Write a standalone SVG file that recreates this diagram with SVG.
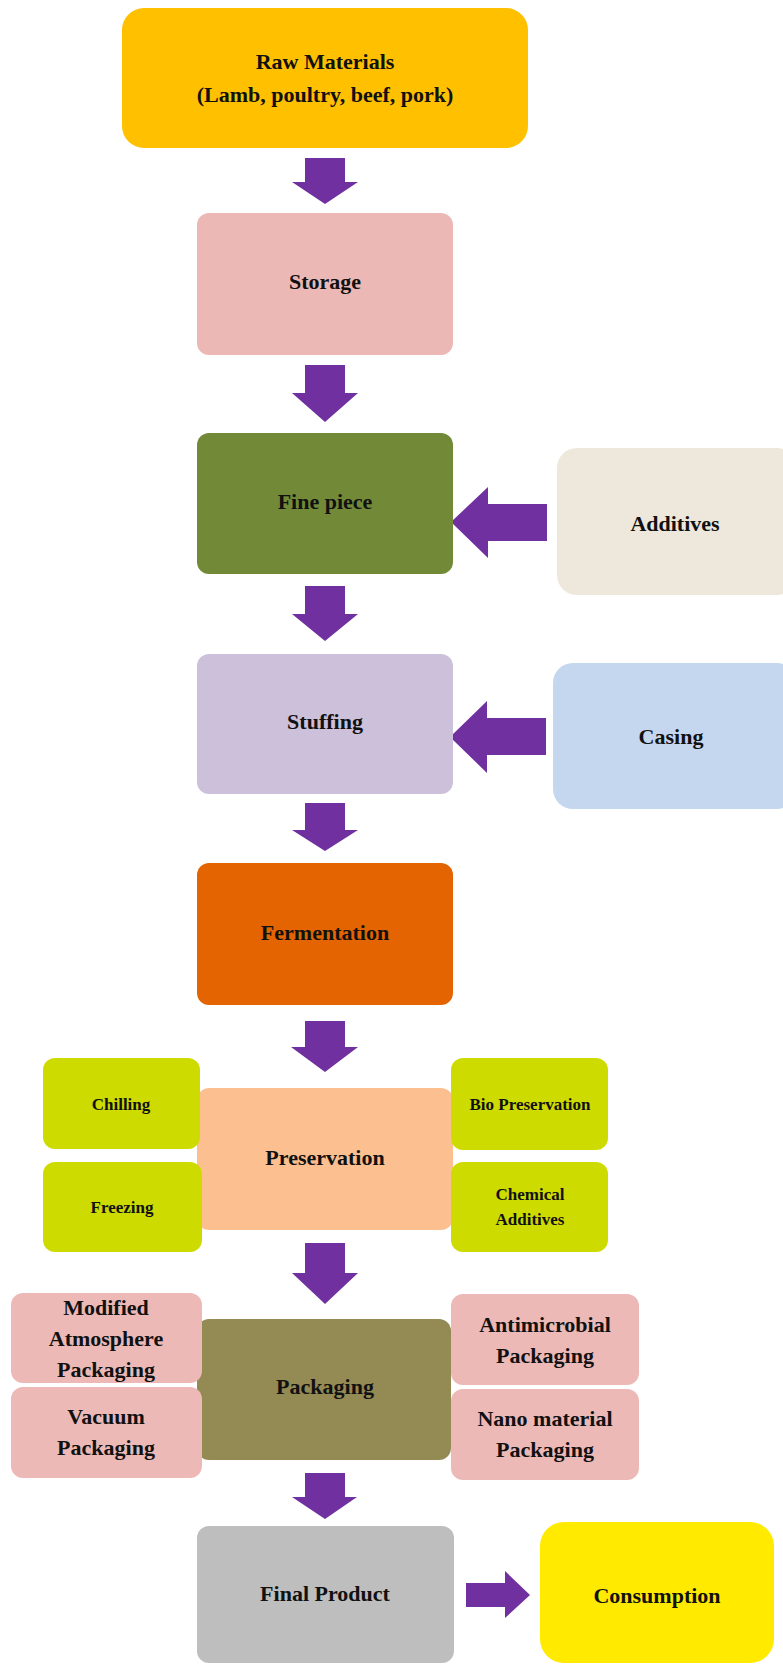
<svg xmlns="http://www.w3.org/2000/svg" width="783" height="1665" viewBox="0 0 783 1665">
<style>
text{font-family:"Liberation Serif","Times New Roman",serif;font-weight:bold;fill:#111;text-anchor:middle}
.m{font-size:22px}
.s{font-size:17px}
.arrow{fill:#7030A0}
</style>
<rect width="783" height="1665" fill="#ffffff"/>
<g id="connectors">
<polygon class="arrow" points="305,158 345,158 345,182 358,182 325,204 292,182 305,182"/>
<polygon class="arrow" points="305,365 345,365 345,393 358,393 325,422 292,393 305,393"/>
<polygon class="arrow" points="547,504 547,541 488,541 488,558 451,522 488,487 488,504"/>
<polygon class="arrow" points="305,586 345,586 345,614 358,614 325,641 292,614 305,614"/>
<polygon class="arrow" points="546,718 546,755 487,755 487,773 450,737 487,701 487,718"/>
<polygon class="arrow" points="305,803 345,803 345,830 358,830 325,851 292,830 305,830"/>
<polygon class="arrow" points="305,1021 345,1021 345,1047 358,1047 325,1072 291,1047 305,1047"/>
<polygon class="arrow" points="305,1243 345,1243 345,1273 358,1273 325,1304 292,1273 305,1273"/>
<polygon class="arrow" points="305,1473 345,1473 345,1497 357,1497 325,1519 292,1497 305,1497"/>
<polygon class="arrow" points="466,1583 505,1583 505,1571 530,1595 505,1618 505,1607 466,1607"/>
</g>
<g id="raw"><rect x="122" y="8" width="406" height="140" rx="22" fill="#FFC000"/>
<text class="m" x="325" y="69">Raw Materials</text><text class="m" x="325" y="102">(Lamb, poultry, beef, pork)</text></g>
<g id="storage"><rect x="197" y="213" width="256" height="142" rx="12" fill="#ECB8B5"/>
<text class="m" x="325" y="289">Storage</text></g>
<g id="finepiece"><rect x="197" y="433" width="256" height="141" rx="12" fill="#728A38"/>
<text class="m" x="325" y="509">Fine piece</text></g>
<g id="additives"><rect x="557" y="448" width="240" height="147" rx="20" fill="#EEE7DC"/>
<text class="m" x="675" y="531">Additives</text></g>
<g id="stuffing"><rect x="197" y="654" width="256" height="140" rx="12" fill="#CCC0DA"/>
<text class="m" x="325" y="729">Stuffing</text></g>
<g id="casing"><rect x="553" y="663" width="244" height="146" rx="20" fill="#C5D7EF"/>
<text class="m" x="671" y="744">Casing</text></g>
<g id="fermentation"><rect x="197" y="863" width="256" height="142" rx="12" fill="#E36400"/>
<text class="m" x="325" y="940">Fermentation</text></g>
<g id="preservation"><rect x="197" y="1088" width="256" height="142" rx="12" fill="#FCC090"/>
<text class="m" x="325" y="1165">Preservation</text></g>
<g id="chilling"><rect x="43" y="1058" width="157" height="91" rx="12" fill="#CEDB00"/>
<text class="s" x="121" y="1110">Chilling</text></g>
<g id="freezing"><rect x="43" y="1162" width="159" height="90" rx="12" fill="#CEDB00"/>
<text class="s" x="122" y="1213">Freezing</text></g>
<g id="biopreservation"><rect x="451" y="1058" width="157" height="92" rx="12" fill="#CEDB00"/>
<text class="s" x="530" y="1110">Bio Preservation</text></g>
<g id="chemical"><rect x="451" y="1162" width="157" height="90" rx="12" fill="#CEDB00"/>
<text class="s" x="530" y="1200">Chemical</text><text class="s" x="530" y="1225">Additives</text></g>
<g id="packaging"><rect x="197" y="1319" width="254" height="141" rx="12" fill="#948A54"/>
<text class="m" x="325" y="1394">Packaging</text></g>
<g id="map"><rect x="11" y="1293" width="191" height="90" rx="12" fill="#EDB9B7"/>
<text class="m" x="106" y="1315">Modified</text><text class="m" x="106" y="1346">Atmosphere</text><text class="m" x="106" y="1377">Packaging</text></g>
<g id="vacuum"><rect x="11" y="1387" width="191" height="91" rx="12" fill="#EDB9B7"/>
<text class="m" x="106" y="1424">Vacuum</text><text class="m" x="106" y="1455">Packaging</text></g>
<g id="antimicrobial"><rect x="451" y="1294" width="188" height="91" rx="12" fill="#EDB9B7"/>
<text class="m" x="545" y="1332">Antimicrobial</text><text class="m" x="545" y="1363">Packaging</text></g>
<g id="nano"><rect x="451" y="1389" width="188" height="91" rx="12" fill="#EDB9B7"/>
<text class="m" x="545" y="1426">Nano material</text><text class="m" x="545" y="1457">Packaging</text></g>
<g id="finalproduct"><rect x="197" y="1526" width="257" height="137" rx="12" fill="#BEBEBE"/>
<text class="m" x="325" y="1601">Final Product</text></g>
<g id="consumption"><rect x="540" y="1522" width="234" height="141" rx="24" fill="#FFEA00"/>
<text class="m" x="657" y="1603">Consumption</text></g>
</svg>
